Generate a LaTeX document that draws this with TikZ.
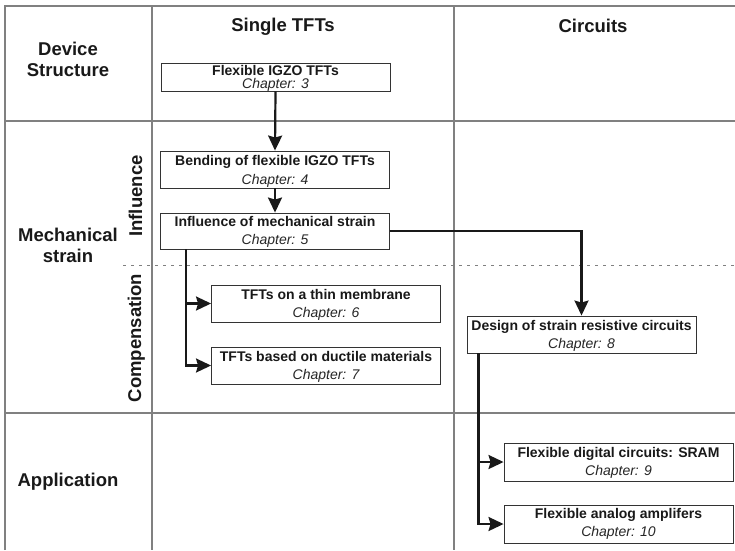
\documentclass[tikz,border=0pt]{standalone}
\usepackage{fontspec}
\setmainfont{Liberation Sans}
\usetikzlibrary{arrows.meta,calc}
\begin{document}
\begin{tikzpicture}[x=1pt,y=-1pt,
  grid/.style={draw=black!50,line width=1.3pt},
  sep/.style={draw=black!50,line width=1.2pt,dash pattern=on 3pt off 5pt},
  big/.style={font=\fontsize{18.5}{21}\selectfont\bfseries,inner sep=0pt,align=center,text=black!90},
  side/.style={font=\fontsize{18.5}{21}\selectfont\bfseries,inner sep=0pt,rotate=90,anchor=base,text=black!90},
  box/.style={draw=black!80,line width=0.9pt,fill=white,inner sep=0pt,minimum width=229pt,minimum height=37pt},
  ttl/.style={font=\fontsize{14}{16}\selectfont\bfseries,inner sep=0pt,anchor=base,text=black!90},
  chp/.style={font=\fontsize{14}{16}\selectfont\itshape,inner sep=0pt,anchor=base,text=black!85},
  flow/.style={line width=2.2pt,draw=black!90,-{Stealth[length=15pt,width=14pt,inset=2pt]}}]
\useasboundingbox (0,0) rectangle (735,550);
% grid
\draw[grid] (5,550) -- (5,6) -- (735,6);
\draw[grid] (5,121) -- (735,121);
\draw[grid] (5,413) -- (735,413);
\draw[grid] (152,6) -- (152,550);
\draw[grid] (454,6) -- (454,550);
\draw[sep] (123,265.5) -- (735,265.5);
% headers
\node[big,anchor=base] (hs) at (283,31) {Single TFTs};
\node[big,anchor=base] (hc) at (593,32) {Circuits};
\node[big,anchor=base] (rd) at (68,76) {Device\\Structure};
\node[big,anchor=base] (rm) at (68,262) {Mechanical\\strain};
\node[big,anchor=base] (ra) at (68,486) {Application};
\node[side] (si) at (142,196) {Influence};
\node[side] (sc) at (141,338) {Compensation};
% boxes
\node[box,minimum height=28pt] (b1) at (275.5,77) {};
\node[ttl] (b1a) at ([yshift=-13pt]b1.north) {Flexible IGZO TFTs};
\node[chp] (b1b) at ([yshift=-26pt]b1.north) {Chapter: 3};
\node[box] (b2) at (275,169.5) {};
\node[ttl] (b2a) at ([yshift=-15pt]b2.north) {Bending of flexible IGZO TFTs};
\node[chp] (b2b) at ([yshift=-34pt]b2.north) {Chapter: 4};
\node[box,minimum height=36pt] (b3) at (275,231) {};
\node[ttl] (b3a) at ([yshift=-14pt]b3.north) {Influence of mechanical strain};
\node[chp] (b3b) at ([yshift=-32pt]b3.north) {Chapter: 5};
\node[box] (b6) at (326,303.5) {};
\node[ttl] (b6a) at ([yshift=-15pt]b6.north) {TFTs on a thin membrane};
\node[chp] (b6b) at ([yshift=-33pt]b6.north) {Chapter: 6};
\node[box] (b7) at (326,365.5) {};
\node[ttl] (b7a) at ([yshift=-14.5pt]b7.north) {TFTs based on ductile materials};
\node[chp] (b7b) at ([yshift=-33pt]b7.north) {Chapter: 7};
\node[box] (b8) at (581.5,334.5) {};
\node[ttl] (b8a) at ([yshift=-15pt]b8.north) {Design of strain resistive circuits};
\node[chp] (b8b) at ([yshift=-33pt]b8.north) {Chapter: 8};
\node[box,minimum height=38pt] (b9) at (618.5,462) {};
\node[ttl] (b9a) at ([yshift=-14.5pt]b9.north) {Flexible digital circuits: SRAM};
\node[chp] (b9b) at ([yshift=-33pt]b9.north) {Chapter: 9};
\node[box,minimum height=38pt] (b10) at (618.5,524) {};
\node[ttl] (b10a) at ([yshift=-13.5pt]b10.north) {Flexible analog amplifers};
\node[chp] (b10b) at ([yshift=-32pt]b10.north) {Chapter: 10};
% connectors
\coordinate (s3) at ([xshift=26pt]b3.south west);
\coordinate (s8) at ([xshift=12pt]b8.south west);
\draw[flow] (b1.south) -- (b2.north);
\draw[flow] (b2.south) -- (b3.north);
\draw[flow] (b3.east) -| (b8.north);
\draw[flow] (s3) |- (b6.west);
\draw[flow] (s3) |- (b7.west);
\draw[flow] (s8) |- (b9.west);
\draw[flow] (s8) |- (b10.west);
\end{tikzpicture}
\end{document}
